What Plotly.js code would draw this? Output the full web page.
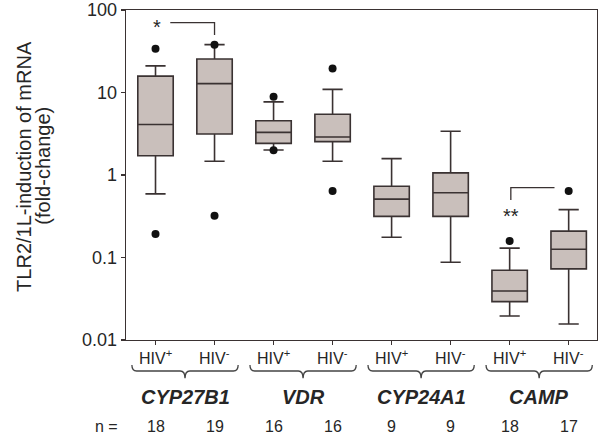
<!DOCTYPE html>
<html>
<head>
<meta charset="utf-8">
<script src="https://cdn.plot.ly/plotly-3.0.1.min.js"></script>
<style>
html,body{margin:0;padding:0;background:#fff;}
#chart{width:600px;height:434px;}
</style>
</head>
<body>
<div id="chart"></div>
<script>
// ---- data ----
var positions   = [0, 1, 2, 3, 4, 5, 6, 7];
var groupLabels = ["HIV+", "HIV-", "HIV+", "HIV-", "HIV+", "HIV-", "HIV+", "HIV-"];
var genes       = ["CYP27B1", "VDR", "CYP24A1", "CAMP"];
var nValues     = [18, 19, 16, 16, 9, 9, 18, 17];

var lowerWhisker = [0.59, 1.47, 2.01, 1.47, 0.176, 0.0875, 0.0195, 0.0156];
var q1Values     = [1.71, 3.14, 2.42, 2.54, 0.315, 0.315, 0.0292, 0.0727];
var medians      = [4.1, 12.8, 3.29, 2.89, 0.51, 0.61, 0.0393, 0.126];
var q3Values     = [15.8, 25.5, 4.55, 5.44, 0.73, 1.06, 0.070, 0.209];
var upperWhisker = [21, 38, 7.7, 10.9, 1.58, 3.39, 0.130, 0.38];

var outlierX = [0, 0, 1, 1, 2, 2, 3, 3, 6, 7];
var outlierY = [34, 0.193, 38, 0.32, 8.9, 2.0, 19.5, 0.64, 0.158, 0.64];

var yTickVals  = [0.01, 0.1, 1, 10, 100];
var yTickText  = ["0.01", "0.1", "1", "10", "100"];
var yTitleLines = ["TLR2/1L-induction of mRNA", "(fold-change)"];

// ---- styling ----
var lineCol = "#3a3232";
var textCol = "#262626";
var fontFam = "Liberation Sans, Arial, sans-serif";

var traces = [
  {
    type: "box",
    x: positions,
    q1: q1Values,
    median: medians,
    q3: q3Values,
    lowerfence: lowerWhisker,
    upperfence: upperWhisker,
    width: 0.6,
    whiskerwidth: 0.57,
    fillcolor: "#c9bfbb",
    line: {color: lineCol, width: 1.6},
    boxpoints: false,
    hoverinfo: "skip",
    showlegend: false
  },
  {
    type: "scatter",
    mode: "markers",
    x: outlierX,
    y: outlierY,
    marker: {color: "#111", size: 8},
    hoverinfo: "skip",
    showlegend: false
  }
];

var annotations = [];
var shapes = [];

function supLabel(s) {
  return s.replace(/([+-])$/, "<sup>$1</sup>");
}

positions.forEach(function (p, i) {
  annotations.push({
    x: p, xref: "x", y: -0.053, yref: "paper",
    text: supLabel(groupLabels[i]), showarrow: false,
    font: {family: fontFam, size: 16, color: textCol},
    xanchor: "center", yanchor: "middle"
  });
  annotations.push({
    x: p, xref: "x", y: -0.262, yref: "paper",
    text: String(nValues[i]), showarrow: false,
    font: {family: fontFam, size: 16, color: textCol},
    xanchor: "center", yanchor: "middle"
  });
});

annotations.push({
  x: -0.042, xref: "paper", y: -0.262, yref: "paper",
  text: "n =", showarrow: false,
  font: {family: fontFam, size: 16, color: textCol},
  xanchor: "center", yanchor: "middle"
});

genes.forEach(function (g, k) {
  var c = positions[2 * k] + 0.5;
  annotations.push({
    x: c, xref: "x", y: -0.173, yref: "paper",
    text: "<b><i>" + g + "</i></b>", showarrow: false,
    font: {family: fontFam, size: 20, color: textCol},
    xanchor: "center", yanchor: "middle"
  });
  var x0 = c - 0.9, x1 = c + 0.9, d = 0.08;
  var yTop = -0.076, yMid = -0.094, yTip = -0.116;
  var path = "M" + x0 + "," + yTop +
             " Q" + x0 + "," + yMid + " " + (x0 + d) + "," + yMid +
             " L" + (c - d) + "," + yMid +
             " Q" + c + "," + yMid + " " + c + "," + yTip +
             " Q" + c + "," + yMid + " " + (c + d) + "," + yMid +
             " L" + (x1 - d) + "," + yMid +
             " Q" + x1 + "," + yMid + " " + x1 + "," + yTop;
  shapes.push({
    type: "path", xref: "x", yref: "paper", path: path,
    line: {color: "#444", width: 1.3}
  });
});

// significance brackets
shapes.push({type: "path", xref: "x", yref: "paper",
  path: "M0.25,0.9615 L1,0.9615 L1,0.924",
  line: {color: lineCol, width: 1.3}});
annotations.push({x: 0.02, xref: "x", y: 0.95, yref: "paper", text: "*",
  showarrow: false, font: {family: fontFam, size: 20, color: textCol},
  xanchor: "center", yanchor: "middle"});

shapes.push({type: "path", xref: "x", yref: "paper",
  path: "M6.02,0.424 L6.02,0.4615 L6.76,0.4615",
  line: {color: lineCol, width: 1.3}});
annotations.push({x: 6.03, xref: "x", y: 0.377, yref: "paper", text: "**",
  showarrow: false, font: {family: fontFam, size: 20, color: textCol},
  xanchor: "center", yanchor: "middle"});

// y-axis title, two rotated lines
var titleX = [-0.217, -0.175];
yTitleLines.forEach(function (t, i) {
  annotations.push({
    x: titleX[i], xref: "paper", y: 0.527, yref: "paper",
    text: t, showarrow: false, textangle: -90,
    font: {family: fontFam, size: 20, color: textCol},
    xanchor: "center", yanchor: "middle"
  });
});

var layout = {
  width: 600, height: 434,
  margin: {l: 126, r: 3, t: 10, b: 94, pad: 0},
  paper_bgcolor: "#fff",
  plot_bgcolor: "#fff",
  showlegend: false,
  xaxis: {
    range: [-0.5, 7.48],
    tickvals: positions,
    showticklabels: false,
    ticks: "outside", ticklen: 4, tickcolor: lineCol, tickwidth: 1.2,
    showline: true, linecolor: lineCol, linewidth: 1.3, mirror: true,
    showgrid: false, zeroline: false, fixedrange: true
  },
  yaxis: {
    type: "log",
    range: [-2, 2],
    tickvals: yTickVals,
    ticktext: yTickText,
    ticks: "outside", ticklen: 4, tickcolor: lineCol, tickwidth: 1.2,
    tickfont: {family: fontFam, size: 18, color: textCol},
    showline: true, linecolor: lineCol, linewidth: 1.3, mirror: true,
    showgrid: false, zeroline: false, fixedrange: true
  },
  annotations: annotations,
  shapes: shapes
};

Plotly.newPlot("chart", traces, layout, {displayModeBar: false, staticPlot: true});
</script>
</body>
</html>
